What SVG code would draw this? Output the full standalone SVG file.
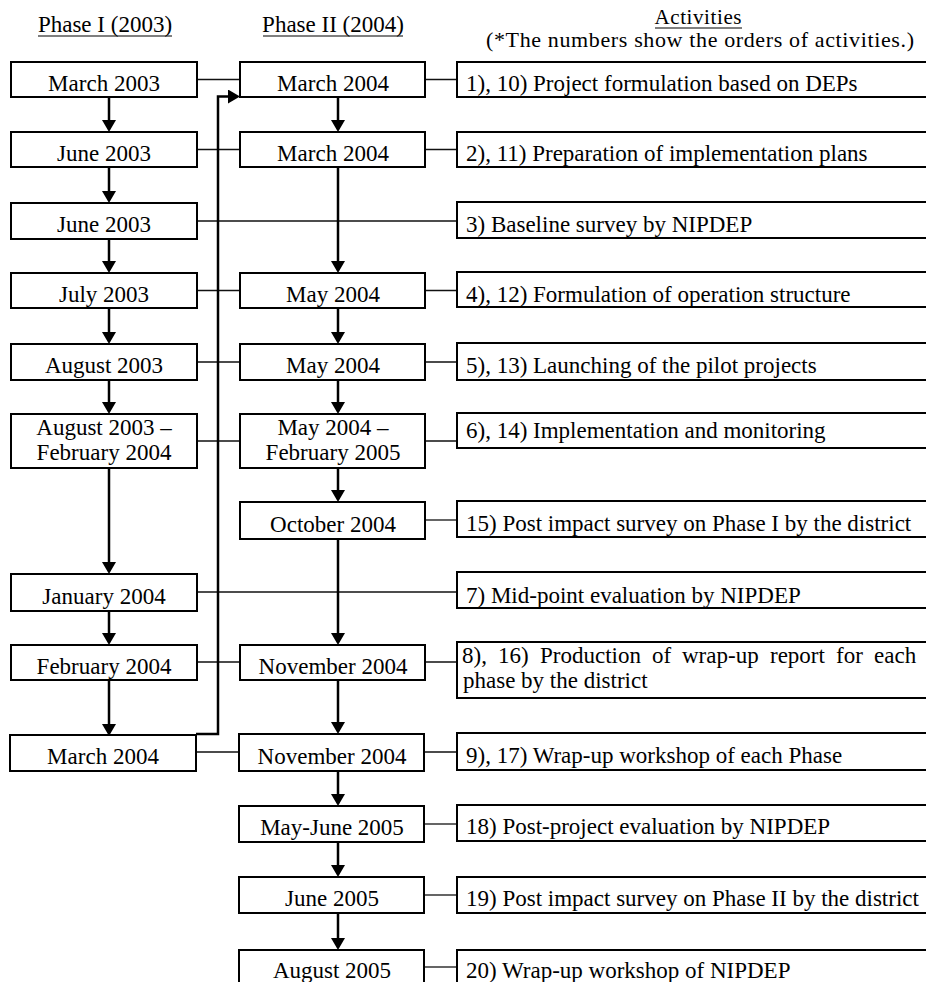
<svg xmlns="http://www.w3.org/2000/svg" width="926" height="982" viewBox="0 0 926 982">
  <style>
    text { font-family: "Liberation Serif", "Times New Roman", serif; font-size: 23px; fill: #000; }
    .c { text-anchor: middle; }
    .hd { font-size: 21px; }
    .note { font-size: 22px; }
    .box { fill: #fff; stroke: #000; stroke-width: 2; }
    .flow { fill: none; stroke: #000; stroke-width: 2.5; }
    .link { fill: none; stroke: #111; stroke-width: 1.3; }
    .ul { stroke: #000; stroke-width: 1.2; }
  </style>
  <defs>
    <marker id="arrow" viewBox="0 0 12 14" refX="9" refY="7" markerWidth="12" markerHeight="14" markerUnits="userSpaceOnUse" orient="auto">
      <path d="M0,0 L12,7 L0,14 Z" fill="#000"/>
    </marker>
  </defs>
  <rect width="926" height="982" fill="#fff"/>

  <!-- column headings -->
  <g id="headings">
    <text class="c" x="105" y="32">Phase I (2003)</text>
    <line class="ul" x1="38" y1="36" x2="172" y2="36"/>
    <text class="c" x="333" y="32">Phase II (2004)</text>
    <line class="ul" x1="263" y1="36" x2="403" y2="36"/>
    <text class="c hd" x="698" y="24" textLength="87">Activities</text>
    <line class="ul" x1="655" y1="28" x2="742" y2="28"/>
    <text class="c note" x="700" y="47" textLength="428">(*The numbers show the orders of activities.)</text>
  </g>

  <!-- connectors -->
  <g id="connectors">
    <!-- thin row links -->
    <path class="link" d="M197,79.5 H240 M425,79.5 H457"/>
    <path class="link" d="M197,149.5 H240 M425,149.5 H457"/>
    <path class="link" d="M197,221 H457"/>
    <path class="link" d="M197,290.5 H240 M425,290.5 H457"/>
    <path class="link" d="M197,362 H240 M425,362 H457"/>
    <path class="link" d="M197,441 H240 M425,441 H457"/>
    <path class="link" d="M425,520 H457"/>
    <path class="link" d="M197,592 H457"/>
    <path class="link" d="M197,662 H240 M425,662 H457"/>
    <path class="link" d="M197,752 H240 M425,752 H457"/>
    <path class="link" d="M425,824 H457"/>
    <path class="link" d="M425,895 H457"/>
    <path class="link" d="M425,967 H457"/>

    <!-- Phase I sequence -->
    <path class="flow" marker-end="url(#arrow)" d="M109,97 V129"/>
    <path class="flow" marker-end="url(#arrow)" d="M109,167 V200"/>
    <path class="flow" marker-end="url(#arrow)" d="M109,239 V270"/>
    <path class="flow" marker-end="url(#arrow)" d="M109,308 V341"/>
    <path class="flow" marker-end="url(#arrow)" d="M109,380 V411"/>
    <path class="flow" marker-end="url(#arrow)" d="M109,468 V571"/>
    <path class="flow" marker-end="url(#arrow)" d="M109,611 V642"/>
    <path class="flow" marker-end="url(#arrow)" d="M109,680 V733"/>

    <!-- Phase I end feeds the start of Phase II -->
    <path class="flow" marker-end="url(#arrow)" d="M196,734 H218 V96.5 H237"/>

    <!-- Phase II sequence -->
    <path class="flow" marker-end="url(#arrow)" d="M338,97 V129"/>
    <path class="flow" marker-end="url(#arrow)" d="M338,167 V270"/>
    <path class="flow" marker-end="url(#arrow)" d="M338,308 V341"/>
    <path class="flow" marker-end="url(#arrow)" d="M338,380 V411"/>
    <path class="flow" marker-end="url(#arrow)" d="M338,468 V499"/>
    <path class="flow" marker-end="url(#arrow)" d="M338,539 V642"/>
    <path class="flow" marker-end="url(#arrow)" d="M338,680 V731"/>
    <path class="flow" marker-end="url(#arrow)" d="M338,771 V803"/>
    <path class="flow" marker-end="url(#arrow)" d="M338,842 V874"/>
    <path class="flow" marker-end="url(#arrow)" d="M338,913 V947"/>
  </g>

  <!-- Phase I dates -->
  <g id="p1-mar2003"><rect class="box" x="11" y="62" width="186" height="35"/><text class="c" x="104" y="91">March 2003</text></g>
  <g id="p1-jun2003a"><rect class="box" x="11" y="132" width="186" height="35"/><text class="c" x="104" y="161">June 2003</text></g>
  <g id="p1-jun2003b"><rect class="box" x="11" y="203" width="186" height="36"/><text class="c" x="104" y="232">June 2003</text></g>
  <g id="p1-jul2003"><rect class="box" x="11" y="273" width="186" height="35"/><text class="c" x="104" y="302">July 2003</text></g>
  <g id="p1-aug2003"><rect class="box" x="11" y="344" width="186" height="36"/><text class="c" x="104" y="373">August 2003</text></g>
  <g id="p1-aug-feb"><rect class="box" x="11" y="414" width="186" height="54"/><text class="c" x="104" y="435">August 2003 –</text><text class="c" x="104" y="460">February 2004</text></g>
  <g id="p1-jan2004"><rect class="box" x="11" y="574" width="186" height="37"/><text class="c" x="104" y="604">January 2004</text></g>
  <g id="p1-feb2004"><rect class="box" x="11" y="645" width="186" height="35"/><text class="c" x="104" y="674">February 2004</text></g>
  <g id="p1-mar2004"><rect class="box" x="10" y="735" width="186" height="36"/><text class="c" x="103" y="764">March 2004</text></g>

  <!-- Phase II dates -->
  <g id="p2-mar2004a"><rect class="box" x="240" y="62" width="185" height="35"/><text class="c" x="333" y="91">March 2004</text></g>
  <g id="p2-mar2004b"><rect class="box" x="240" y="132" width="185" height="35"/><text class="c" x="333" y="161">March 2004</text></g>
  <g id="p2-may2004a"><rect class="box" x="240" y="273" width="185" height="35"/><text class="c" x="333" y="302">May 2004</text></g>
  <g id="p2-may2004b"><rect class="box" x="240" y="344" width="185" height="36"/><text class="c" x="333" y="373">May 2004</text></g>
  <g id="p2-may-feb"><rect class="box" x="240" y="414" width="185" height="54"/><text class="c" x="333" y="435">May 2004 –</text><text class="c" x="333" y="460">February 2005</text></g>
  <g id="p2-oct2004"><rect class="box" x="240" y="502" width="185" height="37"/><text class="c" x="333" y="532">October 2004</text></g>
  <g id="p2-nov2004a"><rect class="box" x="240" y="645" width="185" height="35"/><text class="c" x="333" y="674">November 2004</text></g>
  <g id="p2-nov2004b"><rect class="box" x="239" y="734" width="185" height="37"/><text class="c" x="332" y="764">November 2004</text></g>
  <g id="p2-mayjun2005"><rect class="box" x="239" y="806" width="185" height="36"/><text class="c" x="332" y="835">May-June 2005</text></g>
  <g id="p2-jun2005"><rect class="box" x="239" y="877" width="185" height="36"/><text class="c" x="332" y="906">June 2005</text></g>
  <g id="p2-aug2005"><rect class="box" x="239" y="950" width="185" height="36"/><text class="c" x="332" y="978">August 2005</text></g>

  <!-- Activities -->
  <g id="act-1-10"><rect class="box" x="457" y="62" width="485" height="35"/><text x="466" y="91">1), 10) Project formulation based on DEPs</text></g>
  <g id="act-2-11"><rect class="box" x="457" y="132" width="485" height="35"/><text x="466" y="161">2), 11) Preparation of implementation plans</text></g>
  <g id="act-3"><rect class="box" x="457" y="202" width="485" height="36"/><text x="466" y="232">3) Baseline survey by NIPDEP</text></g>
  <g id="act-4-12"><rect class="box" x="457" y="272" width="485" height="35"/><text x="466" y="302">4), 12) Formulation of operation structure</text></g>
  <g id="act-5-13"><rect class="box" x="457" y="343" width="485" height="37"/><text x="466" y="373">5), 13) Launching of the pilot projects</text></g>
  <g id="act-6-14"><rect class="box" x="457" y="413" width="485" height="35"/><text x="466" y="438">6), 14) Implementation and monitoring</text></g>
  <g id="act-15"><rect class="box" x="457" y="501" width="485" height="36"/><text x="466" y="531">15) Post impact survey on Phase I by the district</text></g>
  <g id="act-7"><rect class="box" x="457" y="572" width="485" height="36"/><text x="466" y="603">7) Mid-point evaluation by NIPDEP</text></g>
  <g id="act-8-16"><rect class="box" x="457" y="642" width="485" height="56"/>
    <!-- justified first line: one positioned span per word -->
    <text y="663"><tspan x="462">8),</tspan><tspan x="498">16)</tspan><tspan x="540">Production</tspan><tspan x="652">of</tspan><tspan x="682">wrap-up</tspan><tspan x="770">report</tspan><tspan x="836">for</tspan><tspan x="874">each</tspan></text>
    <text x="463" y="688">phase by the district</text></g>
  <g id="act-9-17"><rect class="box" x="457" y="733" width="485" height="37"/><text x="466" y="763">9), 17) Wrap-up workshop of each Phase</text></g>
  <g id="act-18"><rect class="box" x="457" y="805" width="485" height="36"/><text x="466" y="834">18) Post-project evaluation by NIPDEP</text></g>
  <g id="act-19"><rect class="box" x="457" y="877" width="485" height="36"/><text x="466" y="906">19) Post impact survey on Phase II by the district</text></g>
  <g id="act-20"><rect class="box" x="457" y="950" width="485" height="40"/><text x="466" y="978">20) Wrap-up workshop of NIPDEP</text></g>
</svg>
